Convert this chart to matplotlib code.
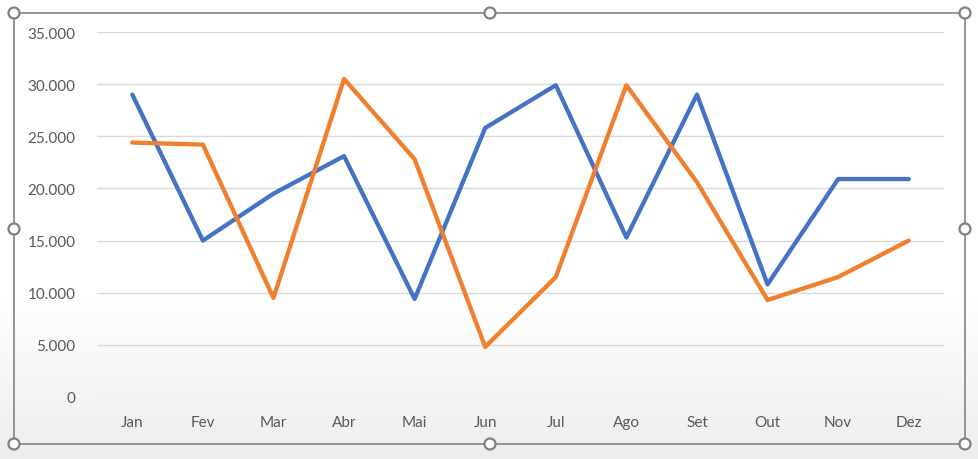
import matplotlib
matplotlib.use("Agg")
import matplotlib.pyplot as plt
import numpy as np
from matplotlib.patches import Rectangle, Circle
from matplotlib.ticker import FuncFormatter, MultipleLocator

months = ["Jan", "Fev", "Mar", "Abr", "Mai", "Jun", "Jul", "Ago", "Set", "Out", "Nov", "Dez"]
series_blue = [29000, 15000, 19500, 23100, 9400, 25800, 29900, 15300, 29000, 10800, 20900, 20900]
series_orange = [24400, 24200, 9500, 30500, 22800, 4800, 11500, 29900, 20600, 9300, 11500, 15000]

W, H = 979, 460
fig = plt.figure(figsize=(W / 100, H / 100), dpi=100)
fig.patch.set_facecolor("white")

# background gradient (light gray towards bottom)
bg = fig.add_axes([0, 0, 1, 1], zorder=-10)
ys = np.arange(H)
g = np.where(ys > 300, 1 - 0.07 * np.clip((ys - 300) / 160, 0, 1), 1.0)
img = np.dstack([g[:, None]] * 3)
bg.imshow(img, aspect="auto", extent=[0, W, H, 0])
bg.set_xlim(0, W)
bg.set_ylim(H, 0)
bg.axis("off")

# frame and handles
bg.add_patch(Rectangle((14, 14), 951, 431, fill=False, edgecolor="#8c8c8c", linewidth=1.3))
for (hx, hy) in [(14, 14), (490, 14), (965, 14), (14, 230), (965, 230), (14, 445), (490, 445), (965, 445)]:
    bg.add_patch(Circle((hx, hy), 5.5, facecolor="white", edgecolor="#808080", linewidth=1.6, zorder=5))

ax = fig.add_axes([97 / W, 1 - 398 / H, (944 - 97) / W, (398 - 33) / H])
ax.set_facecolor("none")
x = np.arange(len(months))
ax.plot(x, series_blue, color="#4472C4", linewidth=3.1, solid_capstyle="round", zorder=3)
ax.plot(x, series_orange, color="#F07F2E", linewidth=3.1, solid_capstyle="round", zorder=3)

ax.set_xlim(-0.5, len(months) - 0.5)
ax.set_ylim(0, 35000)
ax.yaxis.set_major_locator(MultipleLocator(5000))
ax.yaxis.set_major_formatter(FuncFormatter(lambda v, p: f"{int(v):,}".replace(",", ".")))
ax.set_xticks(x)
ax.set_xticklabels(months)
ax.grid(axis="y", color="#D9D9D9", linewidth=1.0)
ax.set_axisbelow(True)
for s in ax.spines.values():
    s.set_visible(False)
ax.tick_params(axis="both", length=0, labelsize=11, labelcolor="#595959")
ax.tick_params(axis="y", pad=15.5)
ax.tick_params(axis="x", pad=13)
for t in ax.get_xticklabels() + ax.get_yticklabels():
    t.set_family(["Lato", "DejaVu Sans"])

fig.savefig("out.png", dpi=100)
